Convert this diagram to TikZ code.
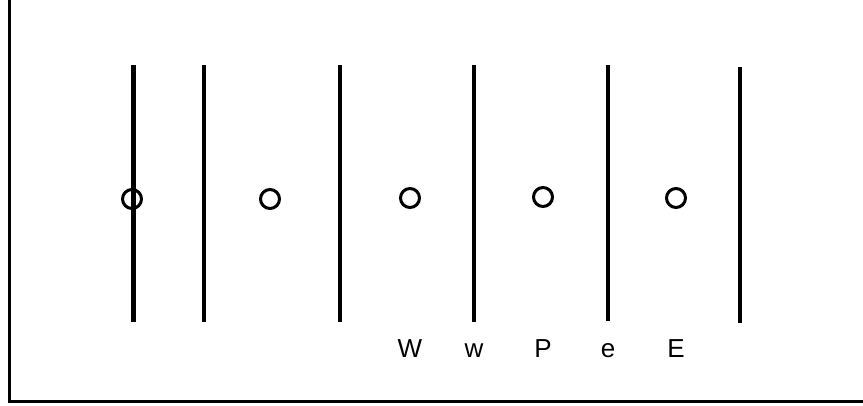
\documentclass[tikz,border=0pt]{standalone}
\usepackage{fontspec}
\setmainfont{Liberation Sans}
\usepackage{tikz}
\usetikzlibrary{positioning}

\begin{document}
\begin{tikzpicture}[x=1pt, y=-1pt,
    face/.style={line width=3.5pt},
    cellpt/.style={circle, draw, line width=3pt, minimum size=19pt, inner sep=0pt},
    lbl/.style={anchor=base, inner sep=0pt, font=\fontsize{26}{30}\selectfont}]

\useasboundingbox (0,0) rectangle (863,406);
\draw[line width=3pt] (9,0) -- (9,401.5) -- (863,401.5);

% cell faces
\coordinate (f1t) at (133,65);  \coordinate (f1b) at (133,322);
\coordinate (f2t) at (204,65);  \coordinate (f2b) at (204,322);
\coordinate (f3t) at (340,65);  \coordinate (f3b) at (340,322);
\coordinate (f4t) at (474,65);  \coordinate (f4b) at (474,322);
\coordinate (f5t) at (608,65);  \coordinate (f5b) at (608,321);
\coordinate (f6t) at (740,67);  \coordinate (f6b) at (740,323);

\draw[face, line width=5pt] (f1t) -- (f1b);
\draw[face] (f2t) -- (f2b);
\draw[face] (f3t) -- (f3b);
\draw[face] (f4t) -- (f4b);
\draw[face] (f5t) -- (f5b);
\draw[face] (f6t) -- (f6b);

% cell centres
\node[cellpt] (c1) at (132,199) {};
\node[cellpt] (c2) at (270,199) {};
\node[cellpt] (W) at (410,198) {};
\node[cellpt] (P) at (543,197) {};
\node[cellpt] (E) at (676,198) {};

% labels
\node[lbl] (lW) at (410,357.5) {W};
\node[lbl] (lw) at (474,357.5) {w};
\node[lbl] (lP) at (543,357.5) {P};
\node[lbl] (le) at (608,357.5) {e};
\node[lbl] (lE) at (676,357.5) {E};
\end{tikzpicture}
\end{document}
